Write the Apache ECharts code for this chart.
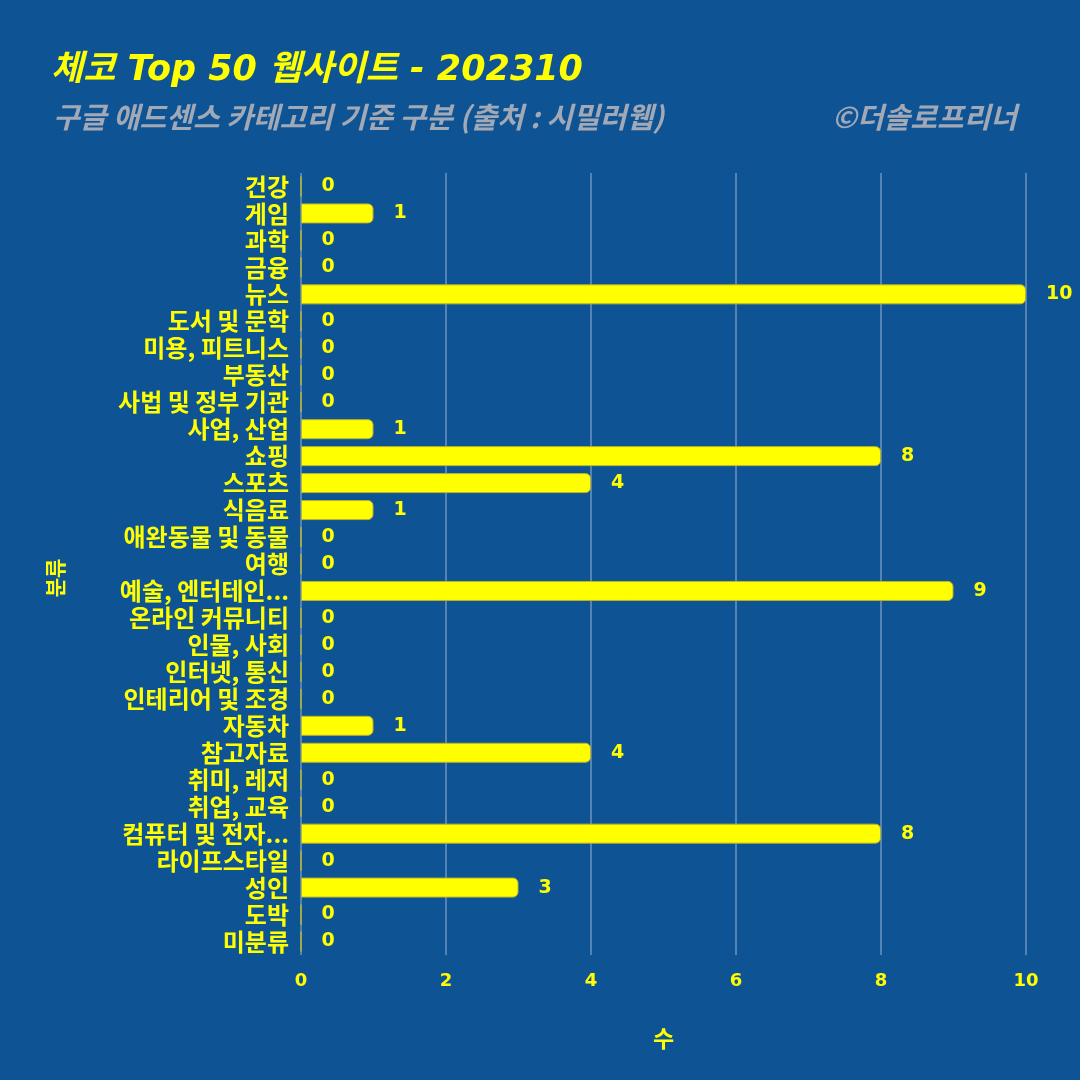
<!DOCTYPE html>
<html><head><meta charset="utf-8">
<script src="https://cdn.jsdelivr.net/npm/echarts@6/dist/echarts.min.js"></script>
<style>html,body{margin:0;padding:0;background:#0E5394;}#c{width:1080px;height:1080px;}</style>
</head><body><div id="c"></div>
<script>
const categories = ['건강','게임','과학','금융','뉴스','도서 및 문학','미용, 피트니스','부동산','사법 및 정부 기관','사업, 산업','쇼핑','스포츠','식음료','애완동물 및 동물','여행','예술, 엔터테인...','온라인 커뮤니티','인물, 사회','인터넷, 통신','인테리어 및 조경','자동차','참고자료','취미, 레저','취업, 교육','컴퓨터 및 전자...','라이프스타일','성인','도박','미분류'];
const values = [0,1,0,0,10,0,0,0,0,1,8,4,1,0,0,9,0,0,0,0,1,4,0,0,8,0,3,0,0];
const xTicks = [0,2,4,6,8,10];
const titleText = '체코 Top 50 웹사이트 - 202310';
const subtitleText = '구글 애드센스 카테고리 기준 구분 (출처 : 시밀러웹)';
const creditText = '©더솔로프리너';
const xName = '수';
const yName = '분류';

const FONT = '"Noto Sans CJK KR", "Noto Sans", sans-serif';
const NUMFONT = '"DejaVu Sans", "Noto Sans CJK KR", sans-serif';
const YEL = '#FFFF00';
const GREY = '#a2a9b6';
const chart = echarts.init(document.getElementById('c'), null, {renderer:'canvas'});
chart.setOption({
  backgroundColor: '#0E5394',
  animation: false,
  title: [
    {text: titleText, left: 46, top: 48, textStyle:{color:YEL, fontFamily:NUMFONT, fontSize:35, fontWeight:'bold', fontStyle:'italic'}},
    {text: subtitleText, left: 48, top: 97, textStyle:{color:GREY, fontFamily:FONT, fontSize:29, fontWeight:'bold', fontStyle:'italic'}},
    {text: creditText, right: 58, top: 97, textStyle:{color:GREY, fontFamily:FONT, fontSize:29, fontWeight:'bold', fontStyle:'italic'}}
  ],
  graphic: [{
    type: 'text', x: 55, y: 578, rotation: Math.PI/2,
    style: {text: yName, fill: YEL, font: 'bold 21px ' + FONT, align: 'center', verticalAlign: 'middle'}
  }],
  grid: {left: 301, right: 54, top: 173, bottom: 125, containLabel: false},
  xAxis: {
    type: 'value', min: xTicks[0], max: xTicks[xTicks.length-1], interval: 2,
    name: xName, nameLocation: 'middle', nameGap: 72,
    nameTextStyle: {color: YEL, fontFamily: FONT, fontSize: 23, fontWeight: 'bold'},
    axisLine: {show: false}, axisTick: {show: false},
    axisLabel: {color: YEL, fontFamily: NUMFONT, fontSize: 18, fontWeight: 'bold', margin: 17},
    splitLine: {show: true, lineStyle: {color: 'rgba(190,205,230,0.4)', width: 2}}
  },
  yAxis: {
    type: 'category', data: categories, inverse: true,
    axisLine: {show: false}, axisTick: {show: false},
    axisLabel: {color: YEL, fontFamily: FONT, fontSize: 24, fontWeight: 'bold', margin: 12, interval: 0, lineHeight: 24},
    splitLine: {show: false}
  },
  series: [{
    type: 'bar', data: values, barWidth: 20,
    itemStyle: {color: YEL, borderColor: '#b9b52a', borderWidth: 1, borderRadius: [0,5,5,0]},
    label: {show: true, position: 'right', distance: 20, color: YEL, fontFamily: NUMFONT, fontSize: 19, fontWeight: 'bold'}
  }]
});
</script></body></html>
